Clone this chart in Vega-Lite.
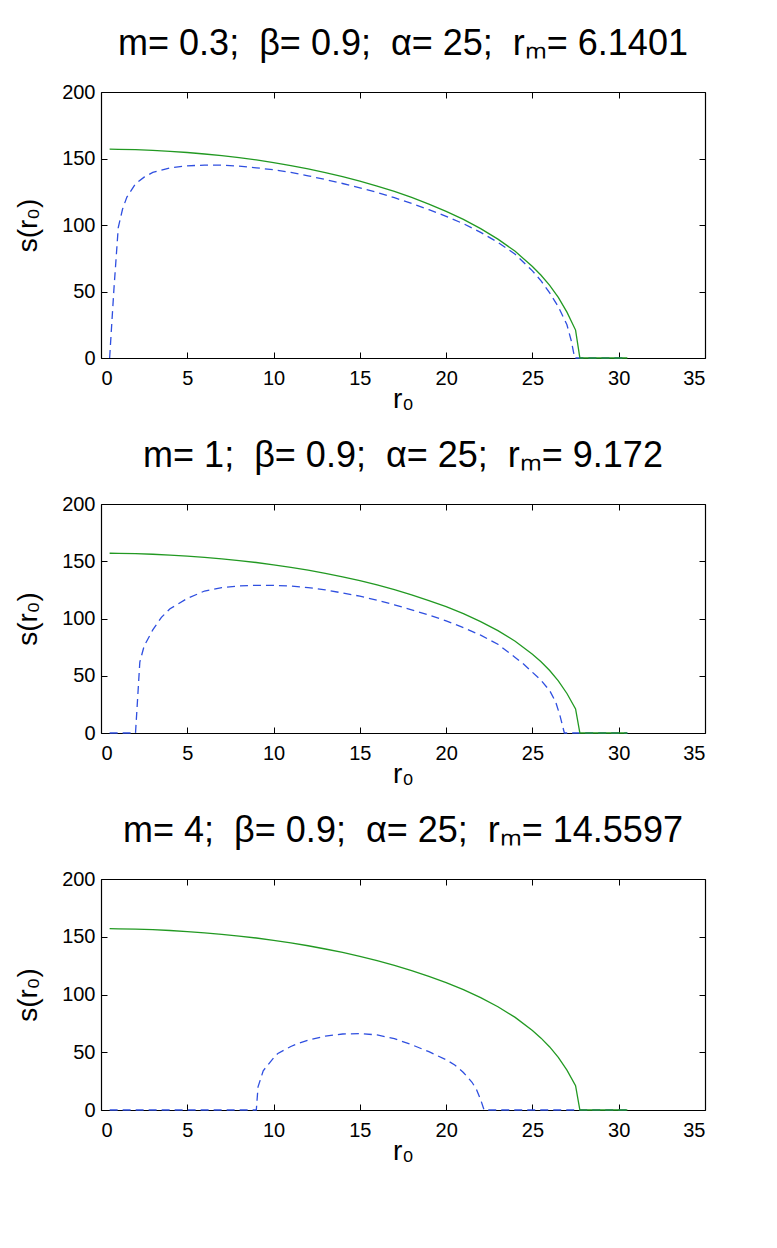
{
  "$schema": "https://vega.github.io/schema/vega-lite/v6.json",
  "padding": {"left": 14, "top": 26, "right": 5, "bottom": 5},
  "datasets": {
    "green": [
      {"r": 0.5, "s": 157.0}, {"r": 1, "s": 156.9}, {"r": 2, "s": 156.6}, {"r": 3, "s": 156.1},
      {"r": 4, "s": 155.4}, {"r": 5, "s": 154.5}, {"r": 6, "s": 153.4}, {"r": 7, "s": 152.1},
      {"r": 8, "s": 150.6}, {"r": 9, "s": 148.9}, {"r": 10, "s": 146.9}, {"r": 11, "s": 144.7},
      {"r": 12, "s": 142.2}, {"r": 13, "s": 139.4}, {"r": 14, "s": 136.4}, {"r": 15, "s": 133.0},
      {"r": 16, "s": 129.3}, {"r": 17, "s": 125.2}, {"r": 18, "s": 120.7}, {"r": 19, "s": 115.7},
      {"r": 20, "s": 110.3}, {"r": 21, "s": 104.2}, {"r": 22, "s": 97.3}, {"r": 23, "s": 89.4},
      {"r": 24, "s": 80.2}, {"r": 25, "s": 68.8}, {"r": 25.5, "s": 62.2}, {"r": 26, "s": 54.6},
      {"r": 26.5, "s": 45.6}, {"r": 27, "s": 34.5}, {"r": 27.5, "s": 21.0}, {"r": 27.75, "s": 0},
      {"r": 30.5, "s": 0}
    ],
    "blue_m03": [
      {"r": 0.5, "s": 0}, {"r": 0.75, "s": 52}, {"r": 1.0, "s": 98}, {"r": 1.25, "s": 112},
      {"r": 1.5, "s": 121}, {"r": 2, "s": 131}, {"r": 2.5, "s": 136}, {"r": 3, "s": 139.5},
      {"r": 4, "s": 143}, {"r": 5, "s": 144.5}, {"r": 6, "s": 145}, {"r": 7, "s": 145},
      {"r": 8, "s": 144.3}, {"r": 9, "s": 143}, {"r": 10, "s": 141.5}, {"r": 11, "s": 139.5},
      {"r": 12, "s": 137}, {"r": 13, "s": 134.2}, {"r": 14, "s": 131.2}, {"r": 15, "s": 128},
      {"r": 16, "s": 124.5}, {"r": 17, "s": 120.5}, {"r": 18, "s": 116.2}, {"r": 19, "s": 111.5},
      {"r": 20, "s": 106.5}, {"r": 21, "s": 101}, {"r": 22, "s": 94.5}, {"r": 23, "s": 87},
      {"r": 24, "s": 78}, {"r": 25, "s": 65.5}, {"r": 25.5, "s": 58}, {"r": 26, "s": 49},
      {"r": 26.5, "s": 38.5}, {"r": 27, "s": 25}, {"r": 27.25, "s": 13}, {"r": 27.45, "s": 0},
      {"r": 30.5, "s": 0}
    ],
    "blue_m1": [
      {"r": 0.5, "s": 0}, {"r": 2.0, "s": 0}, {"r": 2.25, "s": 62}, {"r": 2.5, "s": 76},
      {"r": 3, "s": 90}, {"r": 3.5, "s": 101}, {"r": 4, "s": 108.5}, {"r": 5, "s": 117.5},
      {"r": 6, "s": 124}, {"r": 7, "s": 127}, {"r": 8, "s": 128.5}, {"r": 9, "s": 129},
      {"r": 10, "s": 129}, {"r": 11, "s": 128.3}, {"r": 12, "s": 127}, {"r": 13, "s": 125},
      {"r": 14, "s": 122.3}, {"r": 15, "s": 119.5}, {"r": 16, "s": 116}, {"r": 17, "s": 112},
      {"r": 18, "s": 107.5}, {"r": 19, "s": 103}, {"r": 20, "s": 98}, {"r": 21, "s": 92},
      {"r": 22, "s": 85.5}, {"r": 23, "s": 77.5}, {"r": 24, "s": 66}, {"r": 24.5, "s": 60},
      {"r": 25, "s": 53}, {"r": 25.5, "s": 46}, {"r": 26, "s": 37}, {"r": 26.35, "s": 27},
      {"r": 26.6, "s": 15}, {"r": 26.85, "s": 0}, {"r": 30.5, "s": 0}
    ],
    "blue_m4": [
      {"r": 0.5, "s": 0}, {"r": 9.0, "s": 0}, {"r": 9.1, "s": 20}, {"r": 9.4, "s": 34},
      {"r": 10, "s": 45}, {"r": 10.25, "s": 49}, {"r": 11, "s": 55}, {"r": 11.4, "s": 57.5},
      {"r": 12, "s": 60.5}, {"r": 13, "s": 64}, {"r": 14, "s": 65.8}, {"r": 15, "s": 66.2},
      {"r": 16, "s": 65}, {"r": 17, "s": 61.8}, {"r": 18, "s": 56.5}, {"r": 19, "s": 50.5},
      {"r": 20, "s": 43.5}, {"r": 20.5, "s": 39}, {"r": 21, "s": 32.5}, {"r": 21.5, "s": 24},
      {"r": 21.75, "s": 18}, {"r": 22, "s": 9}, {"r": 22.2, "s": 0}, {"r": 30.5, "s": 0}
    ]
  },
  "vconcat": [
    {
      "width": 604,
      "height": 266,
      "title": {"text": "m= 0.3;\u00a0\u00a0β= 0.9;\u00a0\u00a0α= 25;\u00a0\u00a0rₘ= 6.1401"},
      "layer": [
        {
          "data": {"name": "blue_m03"},
          "mark": {"type": "line", "color": "#2f4fe0", "strokeWidth": 1.3, "strokeDash": [8, 5]},
          "encoding": {
            "x": {"field": "r", "type": "quantitative", "scale": {"domain": [0, 35], "nice": false},
                  "axis": {"orient": "bottom", "title": "r₀", "values": [0, 5, 10, 15, 20, 25, 30, 35]}},
            "y": {"field": "s", "type": "quantitative", "scale": {"domain": [0, 200], "nice": false},
                  "axis": {"orient": "left", "title": "s(r₀)", "values": [0, 50, 100, 150, 200]}}
          }
        },
        {
          "data": {"name": "green"},
          "mark": {"type": "line", "color": "#229922", "strokeWidth": 1.3},
          "encoding": {
            "x": {"field": "r", "type": "quantitative",
                  "axis": {"orient": "top", "title": null, "labels": false, "values": [0, 5, 10, 15, 20, 25, 30, 35]}},
            "y": {"field": "s", "type": "quantitative",
                  "axis": {"orient": "right", "title": null, "labels": false, "values": [0, 50, 100, 150, 200]}}
          }
        }
      ],
      "resolve": {"axis": {"x": "independent", "y": "independent"}}
    },
    {
      "width": 604,
      "height": 229,
      "title": {"text": "m= 1;\u00a0\u00a0β= 0.9;\u00a0\u00a0α= 25;\u00a0\u00a0rₘ= 9.172"},
      "layer": [
        {
          "data": {"name": "blue_m1"},
          "mark": {"type": "line", "color": "#2f4fe0", "strokeWidth": 1.3, "strokeDash": [8, 5]},
          "encoding": {
            "x": {"field": "r", "type": "quantitative", "scale": {"domain": [0, 35], "nice": false},
                  "axis": {"orient": "bottom", "title": "r₀", "values": [0, 5, 10, 15, 20, 25, 30, 35]}},
            "y": {"field": "s", "type": "quantitative", "scale": {"domain": [0, 200], "nice": false},
                  "axis": {"orient": "left", "title": "s(r₀)", "values": [0, 50, 100, 150, 200]}}
          }
        },
        {
          "data": {"name": "green"},
          "mark": {"type": "line", "color": "#229922", "strokeWidth": 1.3},
          "encoding": {
            "x": {"field": "r", "type": "quantitative",
                  "axis": {"orient": "top", "title": null, "labels": false, "values": [0, 5, 10, 15, 20, 25, 30, 35]}},
            "y": {"field": "s", "type": "quantitative",
                  "axis": {"orient": "right", "title": null, "labels": false, "values": [0, 50, 100, 150, 200]}}
          }
        }
      ],
      "resolve": {"axis": {"x": "independent", "y": "independent"}}
    },
    {
      "width": 604,
      "height": 231,
      "title": {"text": "m= 4;\u00a0\u00a0β= 0.9;\u00a0\u00a0α= 25;\u00a0\u00a0rₘ= 14.5597"},
      "layer": [
        {
          "data": {"name": "blue_m4"},
          "mark": {"type": "line", "color": "#2f4fe0", "strokeWidth": 1.3, "strokeDash": [8, 5]},
          "encoding": {
            "x": {"field": "r", "type": "quantitative", "scale": {"domain": [0, 35], "nice": false},
                  "axis": {"orient": "bottom", "title": "r₀", "values": [0, 5, 10, 15, 20, 25, 30, 35]}},
            "y": {"field": "s", "type": "quantitative", "scale": {"domain": [0, 200], "nice": false},
                  "axis": {"orient": "left", "title": "s(r₀)", "values": [0, 50, 100, 150, 200]}}
          }
        },
        {
          "data": {"name": "green"},
          "mark": {"type": "line", "color": "#229922", "strokeWidth": 1.3},
          "encoding": {
            "x": {"field": "r", "type": "quantitative",
                  "axis": {"orient": "top", "title": null, "labels": false, "values": [0, 5, 10, 15, 20, 25, 30, 35]}},
            "y": {"field": "s", "type": "quantitative",
                  "axis": {"orient": "right", "title": null, "labels": false, "values": [0, 50, 100, 150, 200]}}
          }
        }
      ],
      "resolve": {"axis": {"x": "independent", "y": "independent"}}
    }
  ],
  "spacing": 25,
  "config": {
    "font": "Liberation Sans",
    "view": {"stroke": null},
    "axis": {
      "grid": false,
      "domainColor": "black",
      "domainWidth": 1.2,
      "tickColor": "black",
      "tickWidth": 1,
      "tickSize": -6,
      "labelColor": "black",
      "labelFont": "Liberation Sans",
      "labelFontSize": 20,
      "titleColor": "black",
      "titleFont": "Liberation Sans",
      "titleFontSize": 28,
      "titleFontWeight": "normal"
    },
    "axisX": {"labelPadding": 16, "titlePadding": -3},
    "axisY": {"labelPadding": 12, "titlePadding": 19},
    "title": {"font": "Liberation Sans", "fontSize": 36, "fontWeight": "normal", "color": "black", "offset": 19}
  }
}
